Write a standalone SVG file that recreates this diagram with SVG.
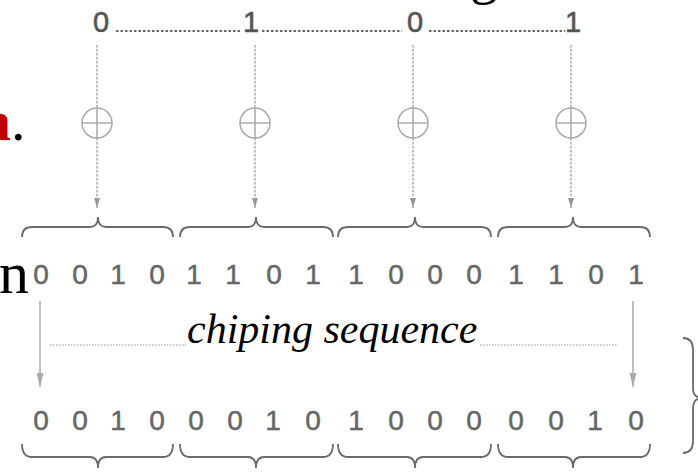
<svg xmlns="http://www.w3.org/2000/svg" width="698" height="473" viewBox="0 0 698 473">
<style>
.bit{font-family:"Liberation Sans","DejaVu Sans",sans-serif;font-size:29px;fill:#555;stroke:#555;stroke-width:0.6;text-anchor:middle}
.row{font-family:"Liberation Sans","DejaVu Sans",sans-serif;font-size:28px;fill:#666;stroke:#666;stroke-width:0.5;text-anchor:middle}
.dots{stroke:#666;stroke-width:2.2;stroke-dasharray:2.5 2;fill:none}
.vdash{stroke:#9a9a9a;stroke-width:1.3;stroke-dasharray:2.5 1.5;fill:none}
.xor{stroke:#aaa;stroke-width:1.5;fill:none}
.brace{stroke:#6a6a6a;stroke-width:1.8;fill:none}
.arr{stroke:#aaa;stroke-width:1.5;fill:none}
.mdots{stroke:#bbb;stroke-width:1.5;stroke-dasharray:1.5 1.5;fill:none}
.serif{font-family:"Liberation Serif","Times New Roman",serif}
</style>
<defs>
<marker id="ah" viewBox="0 0 10 6" refX="10" refY="3" markerWidth="10" markerHeight="6" markerUnits="userSpaceOnUse" orient="auto">
<path d="M0,0 L10,3 L0,6 Z" fill="#999"/>
</marker>
<marker id="ah2" viewBox="0 0 14 7" refX="14" refY="3.5" markerWidth="14" markerHeight="7" markerUnits="userSpaceOnUse" orient="auto">
<path d="M0,0 L14,3.5 L0,7 Z" fill="#aaa"/>
</marker>
</defs>
<rect width="698" height="473" fill="#fff"/>

<!-- cut-off context text -->
<g id="context">
<text class="serif" x="470" y="-7" font-size="56" fill="#000">g</text>
<text class="serif" x="-18" y="140" font-size="58" font-weight="bold" fill="#c00000">a</text>
<text class="serif" x="11" y="140" font-size="58" fill="#000">.</text>
<text class="serif" x="-1" y="293" font-size="60" fill="#000">n</text>
</g>

<!-- top data bits -->
<g id="data-bits">
<text class="bit" x="101" y="32">0</text>
<text class="bit" x="251" y="32">1</text>
<text class="bit" x="415" y="32">0</text>
<text class="bit" x="573" y="32">1</text>
<path class="dots" d="M116,31 H241 M262,31 H402 M429,31 H565"/>
</g>

<!-- connectors -->
<g id="connectors">
<path class="vdash" d="M97,45 V108 M97,138 V208" marker-end="url(#ah)"/>
<path class="vdash" d="M255,45 V108 M255,138 V208" marker-end="url(#ah)"/>
<path class="vdash" d="M413,45 V108 M413,138 V208" marker-end="url(#ah)"/>
<path class="vdash" d="M571,45 V108 M571,138 V208" marker-end="url(#ah)"/>
<path class="arr" d="M40,301 V387" marker-end="url(#ah2)"/>
<path class="arr" d="M633,301 V387" marker-end="url(#ah2)"/>
<path class="mdots" d="M50,345 H186 M480,345 H618"/>
</g>

<!-- XOR symbols -->
<g id="xor-1"><circle class="xor" cx="97" cy="123" r="15"/><path class="xor" d="M82,123 H112 M97,108 V138"/></g>
<g id="xor-2"><circle class="xor" cx="255" cy="123" r="15"/><path class="xor" d="M240,123 H270 M255,108 V138"/></g>
<g id="xor-3"><circle class="xor" cx="413" cy="123" r="15"/><path class="xor" d="M398,123 H428 M413,108 V138"/></g>
<g id="xor-4"><circle class="xor" cx="571" cy="123" r="15"/><path class="xor" d="M556,123 H586 M571,108 V138"/></g>

<!-- top braces -->
<g id="top-braces">
<path class="brace" d="M22,237 Q22,227 32,227 L90,227 Q98,227 98,217 Q98,227 106,227 L163,227 Q173,227 173,237"/>
<path class="brace" d="M180,237 Q180,227 190,227 L248,227 Q256,227 256,217 Q256,227 264,227 L323,227 Q333,227 333,237"/>
<path class="brace" d="M338,237 Q338,227 348,227 L407,227 Q415,227 415,217 Q415,227 423,227 L481,227 Q491,227 491,237"/>
<path class="brace" d="M498,237 Q498,227 508,227 L565,227 Q573,227 573,217 Q573,227 581,227 L640,227 Q650,227 650,237"/>
</g>

<!-- chip sequence row -->
<g id="chip-row">
<text class="row" x="41" y="284">0</text>
<text class="row" x="80" y="284">0</text>
<text class="row" x="118" y="284">1</text>
<text class="row" x="157" y="284">0</text>
<text class="row" x="194" y="284">1</text>
<text class="row" x="233" y="284">1</text>
<text class="row" x="274" y="284">0</text>
<text class="row" x="313" y="284">1</text>
<text class="row" x="356" y="284">1</text>
<text class="row" x="396" y="284">0</text>
<text class="row" x="435" y="284">0</text>
<text class="row" x="474" y="284">0</text>
<text class="row" x="516" y="284">1</text>
<text class="row" x="556" y="284">1</text>
<text class="row" x="596" y="284">0</text>
<text class="row" x="636" y="284">1</text>
</g>

<g id="label">
<text class="serif" x="187" y="343" font-size="42" font-style="italic" fill="#000">chiping sequence</text>
</g>

<!-- result row -->
<g id="result-row">
<text class="row" x="41" y="430">0</text>
<text class="row" x="80" y="430">0</text>
<text class="row" x="118" y="430">1</text>
<text class="row" x="157" y="430">0</text>
<text class="row" x="196" y="430">0</text>
<text class="row" x="235" y="430">0</text>
<text class="row" x="273" y="430">1</text>
<text class="row" x="313" y="430">0</text>
<text class="row" x="356" y="430">1</text>
<text class="row" x="396" y="430">0</text>
<text class="row" x="435" y="430">0</text>
<text class="row" x="474" y="430">0</text>
<text class="row" x="516" y="430">0</text>
<text class="row" x="556" y="430">0</text>
<text class="row" x="595" y="430">1</text>
<text class="row" x="636" y="430">0</text>
</g>

<!-- bottom braces -->
<g id="bottom-braces">
<path class="brace" d="M22,444 Q22,457 32,457 L90,457 Q98,457 98,468 Q98,457 106,457 L163,457 Q173,457 173,444"/>
<path class="brace" d="M180,444 Q180,457 190,457 L248,457 Q256,457 256,468 Q256,457 264,457 L323,457 Q333,457 333,444"/>
<path class="brace" d="M338,444 Q338,457 348,457 L407,457 Q415,457 415,468 Q415,457 423,457 L481,457 Q491,457 491,444"/>
<path class="brace" d="M498,444 Q498,457 508,457 L565,457 Q573,457 573,468 Q573,457 581,457 L640,457 Q650,457 650,444"/>
</g>

<!-- right brace -->
<g id="right-brace">
<path class="brace" d="M683,338 Q693,338 693,350 L693,388 Q693,397 701,398 Q693,399 693,408 L693,441 Q693,453 683,453"/>
</g>
</svg>
